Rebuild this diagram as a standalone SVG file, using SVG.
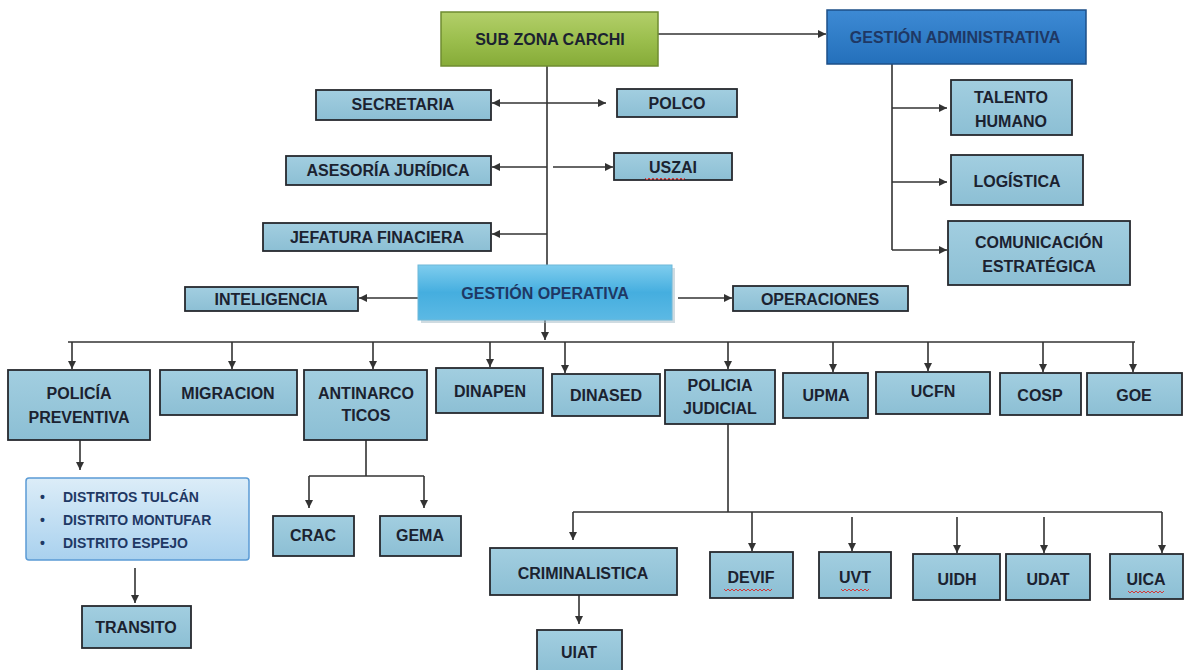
<svg xmlns="http://www.w3.org/2000/svg" width="1193" height="670" viewBox="0 0 1193 670">
<defs>
<linearGradient id="gBox" x1="0" y1="0" x2="0" y2="1"><stop offset="0" stop-color="#a2cee0"/><stop offset="1" stop-color="#8cbfd4"/></linearGradient>
<linearGradient id="gGreen" x1="0" y1="0" x2="0" y2="1"><stop offset="0" stop-color="#b3cf6a"/><stop offset="0.5" stop-color="#9cbf4e"/><stop offset="1" stop-color="#86ab38"/></linearGradient>
<linearGradient id="gAdm" x1="0" y1="0" x2="0" y2="1"><stop offset="0" stop-color="#3d8ad4"/><stop offset="1" stop-color="#2470bb"/></linearGradient>
<linearGradient id="gOp" x1="0" y1="0" x2="0" y2="1"><stop offset="0" stop-color="#7fcdee"/><stop offset="0.5" stop-color="#45aedf"/><stop offset="1" stop-color="#5cb9e4"/></linearGradient>
<linearGradient id="gDist" x1="0" y1="0" x2="0" y2="1"><stop offset="0" stop-color="#dcedf8"/><stop offset="1" stop-color="#a9d1ee"/></linearGradient>
<marker id="ah" markerUnits="userSpaceOnUse" markerWidth="9" markerHeight="9" refX="8" refY="4" orient="auto"><path d="M0,0 L8,4 L0,8 z" fill="#333"/></marker>
</defs>
<style>
.box{fill:url(#gBox);stroke:#26292e;stroke-width:1.8}
.t{font-family:"Liberation Sans",Arial,sans-serif;font-weight:bold;font-size:16px;fill:#1b2230;text-anchor:middle}
.c{stroke:#333;stroke-width:1.6;fill:none}
.a{marker-end:url(#ah)}
.sq{stroke:#d23a3a;stroke-width:1;fill:none}
</style>
<rect width="1193" height="670" fill="#ffffff"/>

<g id="connectors">
<path class="c a" d="M658,34 H826"/>
<path class="c" d="M547,66 V265"/>
<path class="c a" d="M547,103 H492"/>
<path class="c a" d="M547,103 H606"/>
<path class="c a" d="M547,167 H492"/>
<path class="c a" d="M553,167 H613"/>
<path class="c a" d="M547,234 H492"/>
<path class="c" d="M892,64 V250"/>
<path class="c a" d="M892,108 H947"/>
<path class="c a" d="M892,182 H947"/>
<path class="c a" d="M892,250 H947"/>
<path class="c a" d="M418,298 H359"/>
<path class="c a" d="M678,298 H732"/>
<path class="c a" d="M545,320 V340"/>
<path class="c" d="M68,342 H1135"/>
<path class="c a" d="M72,342 V369"/>
<path class="c a" d="M232,342 V369"/>
<path class="c a" d="M373,342 V369"/>
<path class="c a" d="M490,342 V367"/>
<path class="c a" d="M565,342 V373"/>
<path class="c a" d="M728,342 V369"/>
<path class="c a" d="M833,342 V372"/>
<path class="c a" d="M928,342 V371"/>
<path class="c a" d="M1043,342 V372"/>
<path class="c a" d="M1133,342 V372"/>
<path class="c a" d="M80,440 V470"/>
<path class="c a" d="M135,568 V603"/>
<path class="c" d="M366,440 V476 M309,476 H424"/>
<path class="c a" d="M309,476 V508"/>
<path class="c a" d="M424,476 V508"/>
<path class="c" d="M728,424 V512 M573,512 H1162"/>
<path class="c a" d="M573,512 V540"/>
<path class="c a" d="M752,512 V551"/>
<path class="c a" d="M852,517 V551"/>
<path class="c a" d="M957,517 V553"/>
<path class="c a" d="M1044,517 V553"/>
<path class="c a" d="M1162,512 V553"/>
<path class="c a" d="M579,595 V624"/>
</g>

<g id="sub-zona-carchi"><rect x="441" y="12" width="217" height="54" fill="url(#gGreen)" stroke="#6f8c30" stroke-width="1.5"/><text class="t" x="550" y="45" font-size="15" fill="#2b2b1c">SUB ZONA CARCHI</text></g>
<g id="gestion-administrativa"><rect x="827" y="10" width="259" height="54" fill="url(#gAdm)" stroke="#1c4f88" stroke-width="1.5"/><text class="t" x="955" y="43" font-size="14" style="fill:#1f3864">GESTIÓN ADMINISTRATIVA</text></g>
<g id="talento-humano"><rect class="box" x="951" y="80" width="121" height="55"/><text class="t" x="1011" y="103">TALENTO</text><text class="t" x="1011" y="127">HUMANO</text></g>
<g id="logistica"><rect class="box" x="951" y="155" width="132" height="50"/><text class="t" x="1017" y="187">LOGÍSTICA</text></g>
<g id="comunicacion"><rect class="box" x="948" y="221" width="182" height="64"/><text class="t" x="1039" y="248">COMUNICACIÓN</text><text class="t" x="1039" y="272">ESTRATÉGICA</text></g>

<g id="secretaria"><rect class="box" x="316" y="90" width="175" height="30"/><text class="t" x="403" y="110">SECRETARIA</text></g>
<g id="polco"><rect class="box" x="617" y="89" width="120" height="28"/><text class="t" x="677" y="109">POLCO</text></g>
<g id="asesoria"><rect class="box" x="286" y="156" width="205" height="29"/><text class="t" x="388" y="176">ASESORÍA JURÍDICA</text></g>
<g id="uszai"><rect class="box" x="614" y="153" width="118" height="27"/><text class="t" x="673" y="173">USZAI</text><path class="sq" d="M645,178 l2,2 l2,-2 l2,2 l2,-2 l2,2 l2,-2 l2,2 l2,-2 l2,2 l2,-2 l2,2 l2,-2 l2,2 l2,-2 l2,2 l2,-2 l2,2 l2,-2 l2,2 l2,-2"/></g>
<g id="jefatura"><rect class="box" x="263" y="223" width="228" height="28"/><text class="t" x="377" y="243">JEFATURA FINACIERA</text></g>

<g id="gestion-operativa"><rect x="421" y="268" width="254" height="55" fill="#9fb8c4" opacity="0.5"/><rect x="418" y="265" width="254" height="55" fill="url(#gOp)" stroke="#6fb8d8" stroke-width="1"/><text class="t" x="545" y="299" font-size="15" style="fill:#1f3864">GESTIÓN OPERATIVA</text></g>
<g id="inteligencia"><rect class="box" x="185" y="287" width="173" height="24"/><text class="t" x="271" y="305">INTELIGENCIA</text></g>
<g id="operaciones"><rect class="box" x="733" y="286" width="175" height="25"/><text class="t" x="820" y="305">OPERACIONES</text></g>

<g id="policia-preventiva"><rect class="box" x="8" y="370" width="142" height="70"/><text class="t" x="79" y="399">POLICÍA</text><text class="t" x="79" y="423">PREVENTIVA</text></g>
<g id="migracion"><rect class="box" x="160" y="370" width="137" height="45"/><text class="t" x="228" y="399">MIGRACION</text></g>
<g id="antinarcoticos"><rect class="box" x="304" y="370" width="123" height="70"/><text class="t" x="366" y="399" font-size="15">ANTINARCO</text><text class="t" x="366" y="421" font-size="15">TICOS</text></g>
<g id="dinapen"><rect class="box" x="436" y="368" width="107" height="45"/><text class="t" x="490" y="397">DINAPEN</text></g>
<g id="dinased"><rect class="box" x="552" y="374" width="108" height="42"/><text class="t" x="606" y="401">DINASED</text></g>
<g id="policia-judicial"><rect class="box" x="665" y="370" width="110" height="54"/><text class="t" x="720" y="391">POLICIA</text><text class="t" x="720" y="414">JUDICIAL</text></g>
<g id="upma"><rect class="box" x="783" y="373" width="85" height="45"/><text class="t" x="826" y="401">UPMA</text></g>
<g id="ucfn"><rect class="box" x="876" y="372" width="114" height="42"/><text class="t" x="933" y="397">UCFN</text></g>
<g id="cosp"><rect class="box" x="1000" y="373" width="81" height="42"/><text class="t" x="1040" y="401">COSP</text></g>
<g id="goe"><rect class="box" x="1087" y="373" width="95" height="42"/><text class="t" x="1134" y="401">GOE</text></g>

<g id="distritos"><rect x="26" y="478" width="223" height="82" rx="3" fill="url(#gDist)" stroke="#5b9bd5" stroke-width="1.5"/>
<g font-family="Liberation Sans, Arial, sans-serif" font-weight="bold" font-size="14" fill="#1f3864">
<text x="40" y="502">•</text><text x="63" y="502">DISTRITOS  TULCÁN</text>
<text x="40" y="525">•</text><text x="63" y="525">DISTRITO  MONTUFAR</text>
<text x="40" y="548">•</text><text x="63" y="548">DISTRITO  ESPEJO</text>
</g></g>
<g id="transito"><rect class="box" x="82" y="606" width="109" height="42"/><text class="t" x="136" y="633" font-size="15">TRANSITO</text></g>
<g id="crac"><rect class="box" x="273" y="516" width="81" height="40"/><text class="t" x="313" y="541" font-size="15">CRAC</text></g>
<g id="gema"><rect class="box" x="380" y="516" width="81" height="40"/><text class="t" x="420" y="541" font-size="15">GEMA</text></g>

<g id="criminalistica"><rect class="box" x="490" y="548" width="187" height="47"/><text class="t" x="583" y="579">CRIMINALISTICA</text></g>
<g id="uiat"><rect class="box" x="537" y="630" width="85" height="42"/><text class="t" x="579" y="658">UIAT</text></g>
<g id="devif"><rect class="box" x="710" y="552" width="83" height="46"/><text class="t" x="751" y="583">DEVIF</text><path class="sq" d="M724,589 l2,2 l2,-2 l2,2 l2,-2 l2,2 l2,-2 l2,2 l2,-2 l2,2 l2,-2 l2,2 l2,-2 l2,2 l2,-2 l2,2 l2,-2 l2,2 l2,-2 l2,2 l2,-2 l2,2 l2,-2 l2,2 l2,-2"/></g>
<g id="uvt"><rect class="box" x="819" y="552" width="72" height="46"/><text class="t" x="855" y="583">UVT</text><path class="sq" d="M841,589 l2,2 l2,-2 l2,2 l2,-2 l2,2 l2,-2 l2,2 l2,-2 l2,2 l2,-2 l2,2 l2,-2 l2,2 l2,-2"/></g>
<g id="uidh"><rect class="box" x="913" y="554" width="87" height="46"/><text class="t" x="957" y="585">UIDH</text></g>
<g id="udat"><rect class="box" x="1006" y="554" width="84" height="46"/><text class="t" x="1048" y="585">UDAT</text></g>
<g id="uica"><rect class="box" x="1110" y="554" width="73" height="45"/><text class="t" x="1146" y="585">UICA</text><path class="sq" d="M1128,591 l2,2 l2,-2 l2,2 l2,-2 l2,2 l2,-2 l2,2 l2,-2 l2,2 l2,-2 l2,2 l2,-2 l2,2 l2,-2 l2,2 l2,-2 l2,2 l2,-2"/></g>
</svg>
